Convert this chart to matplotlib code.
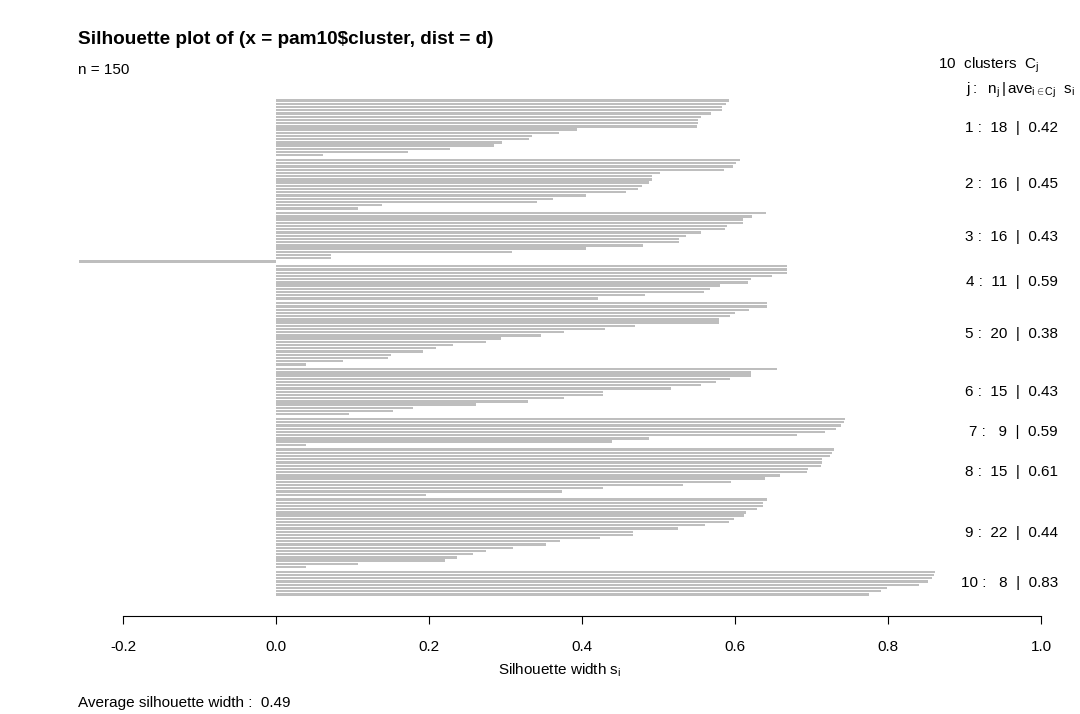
"Silhouette plot of a 10-cluster PAM fit, drawn the way R's plot.silhouette does"

import matplotlib
matplotlib.use("Agg")
import matplotlib.pyplot as plt
import matplotlib.transforms as mtransforms

plt.rcParams["font.family"] = ["Liberation Sans", "DejaVu Sans"]
plt.rcParams["mathtext.fontset"] = "custom"
plt.rcParams["mathtext.rm"] = "Liberation Sans"
plt.rcParams["mathtext.it"] = "Liberation Sans"
plt.rcParams["mathtext.bf"] = "Liberation Sans:bold"

W, H = 1080, 714
FS = 11

#####
# Data (silhouette widths per cluster, sorted decreasing)
#####

c1 = [0.592, 0.588, 0.583, 0.583, 0.568, 0.556, 0.551, 0.551, 0.550, 0.394,
      0.370, 0.334, 0.331, 0.296, 0.285, 0.228, 0.172, 0.061]
c2 = [0.606, 0.601, 0.598, 0.585, 0.502, 0.492, 0.492, 0.487, 0.479, 0.473,
      0.457, 0.405, 0.362, 0.341, 0.138, 0.107]
c3 = [0.640, 0.622, 0.611, 0.611, 0.589, 0.587, 0.556, 0.536, 0.527, 0.527,
      0.480, 0.405, 0.308, 0.072, 0.072, -0.258]
c4 = [0.668, 0.668, 0.668, 0.648, 0.621, 0.617, 0.580, 0.567, 0.559, 0.482,
      0.421]
c5 = [0.642, 0.642, 0.618, 0.600, 0.593, 0.579, 0.579, 0.469, 0.430, 0.377,
      0.346, 0.294, 0.274, 0.232, 0.209, 0.192, 0.150, 0.146, 0.087, 0.039]
c6 = [0.655, 0.621, 0.621, 0.594, 0.575, 0.556, 0.516, 0.428, 0.427, 0.376,
      0.329, 0.262, 0.179, 0.153, 0.096]
c7 = [0.744, 0.742, 0.739, 0.732, 0.718, 0.681, 0.488, 0.439, 0.039]
c8 = [0.729, 0.727, 0.724, 0.714, 0.714, 0.712, 0.695, 0.694, 0.659, 0.639,
      0.595, 0.532, 0.427, 0.374, 0.196]
c9 = [0.642, 0.637, 0.637, 0.629, 0.615, 0.612, 0.599, 0.592, 0.561, 0.526,
      0.467, 0.467, 0.424, 0.371, 0.353, 0.310, 0.274, 0.257, 0.237, 0.221,
      0.107, 0.039]
c10 = [0.862, 0.860, 0.857, 0.852, 0.840, 0.799, 0.791, 0.775]

clusters = [c1, c2, c3, c4, c5, c6, c7, c8, c9, c10]
cluster_avg = ["0.42", "0.45", "0.43", "0.59", "0.38", "0.43", "0.59", "0.61", "0.44", "0.83"]
overall_avg = "0.49"
xticks = [-0.2, 0.0, 0.2, 0.4, 0.6, 0.8, 1.0]


def fig_xy(x, y):
    "Pixel position (from top-left) to figure fraction"
    return x / W, 1 - y / H


#####
# Bar positions: space 0 inside a cluster, 0.5 between clusters
#####

pos, vals, centers = [], [], []
y = 0.0
for k, cl in enumerate(clusters):
    if k > 0:
        y += 0.5
    start = y
    for v in cl:
        pos.append(y + 0.5)
        vals.append(v)
        y += 1
    centers.append((start + y) / 2)
total = y

# Axes placed so that 0 -> 276 px, 1 -> 1041 px, bars span ~99..596 px
x0, x1 = -0.308, 1.050
pad = 0.04 * total
y_top_px, y_bot_px = 99, 596
unit = (y_bot_px - y_top_px) / total
ax_top = y_top_px - pad * unit
ax_bot = y_bot_px + pad * unit
left_px = 276 + x0 * 765
right_px = 276 + x1 * 765

fig = plt.figure(figsize=(W / 100, H / 100), dpi=100)
ax = fig.add_axes([left_px / W, 1 - ax_bot / H, (right_px - left_px) / W, (ax_bot - ax_top) / H])

ax.barh(pos, vals, height=0.72, color="#BEBEBE", linewidth=0)
ax.set_xlim(x0, x1)
ax.set_ylim(total + pad, -pad)

for s in ["top", "right", "left"]:
    ax.spines[s].set_visible(False)
ax.spines["bottom"].set_bounds(-0.2, 1.0)
ax.spines["bottom"].set_linewidth(0.8)
ax.set_yticks([])
ax.set_xticks(xticks)
ax.set_xticklabels([f"{t:.1f}" for t in xticks])
ax.tick_params(axis="x", length=6, width=0.8, pad=11.5, labelsize=FS)

# Cluster annotations on the right, at the middle of each cluster
trans = mtransforms.blended_transform_factory(fig.transFigure, ax.transData)
for k, (cl, c) in enumerate(zip(clusters, centers)):
    ax.text(1058 / W, c, f"{k + 1} :  {len(cl):>2}  |  {cluster_avg[k]}",
            transform=trans, ha="right", va="center", fontsize=FS)

# Titles and headers
fig.text(*fig_xy(78, 40), "Silhouette plot of (x = pam10$cluster, dist = d)",
         fontsize=13.7, fontweight="bold", ha="left", va="center")
fig.text(*fig_xy(78, 70), "n = 150", fontsize=FS, ha="left", va="center")
fig.text(*fig_xy(938, 65), r"10  clusters  $\mathrm{C_j}$", fontsize=FS,
         ha="left", va="center")
fig.text(*fig_xy(1075, 90), r"$\mathrm{j:\ \ n_j\,|\,ave_{i\in Cj}\ \ s_i}$",
         fontsize=FS, ha="right", va="center")
fig.text(*fig_xy(560, 670), r"Silhouette width $\mathrm{s_i}$", fontsize=FS,
         ha="center", va="center")
fig.text(*fig_xy(78, 703), f"Average silhouette width :  {overall_avg}",
         fontsize=FS, ha="left", va="center")

fig.savefig("out.png", dpi=100)
